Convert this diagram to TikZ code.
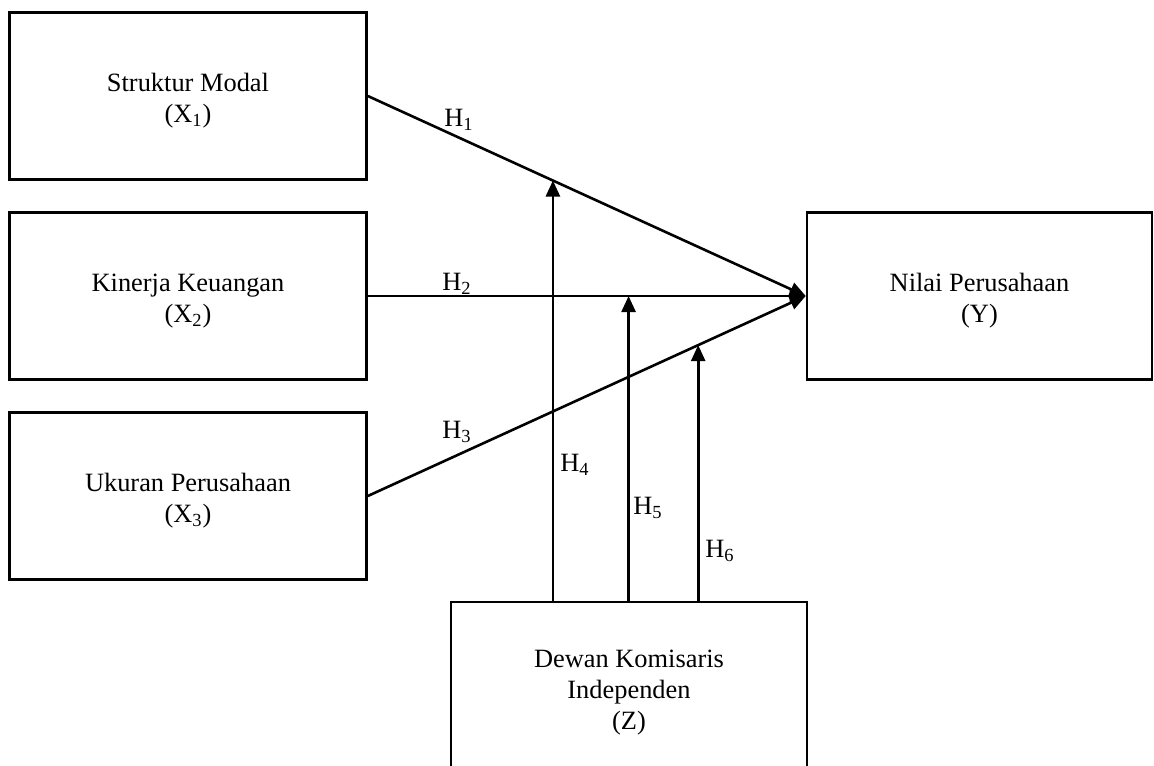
\documentclass[tikz,border=0pt]{standalone}
\usepackage{fontspec}
\setmainfont{Liberation Serif}
\usetikzlibrary{arrows.meta,calc}
\begin{document}
\begin{tikzpicture}[x=0.5pt,y=-0.5pt,
  box/.style={draw, line width=1.3pt, inner sep=0pt},
  boxtext/.style={align=center, inner sep=0pt, yshift=-2.5pt, font=\fontsize{13.2}{15.6}\selectfont},
  leftbox/.style={box, minimum width=178.5pt, minimum height=83.5pt},
  arr/.style={line width=1.3pt, -{Triangle[length=8pt,width=7pt]}},
  lab/.style={font=\fontsize{13.2}{16}\selectfont, inner sep=0pt}]
\useasboundingbox (0,0) rectangle (1154,765);
\node[leftbox, label={[boxtext]center:{Struktur Modal\\(X\textsubscript{1})}}] (x1) at (188,96) {};
\node[leftbox, label={[boxtext]center:{Kinerja Keuangan\\(X\textsubscript{2})}}] (x2) at (188,296) {};
\node[leftbox, label={[boxtext]center:{Ukuran Perusahaan\\(X\textsubscript{3})}}] (x3) at (188,496) {};
\node[box, minimum width=172.5pt, minimum height=83.5pt, label={[boxtext]center:{Nilai Perusahaan\\(Y)}}] (y) at (979.5,296) {};
\node[box, minimum width=178pt, minimum height=86.5pt, label={[boxtext, yshift=0.5pt]center:{Dewan Komisaris\\Independen\\(Z)}}] (z) at (629,688.5) {};
\draw[arr] (x1.east) -- (y.west);
\draw[arr] (x2.east) -- (y.west);
\draw[arr] (x3.east) -- (y.west);
\coordinate (p1) at ($(x1.east)!0.4227!(y.west)$);
\coordinate (p2) at ($(x2.east)!0.5955!(y.west)$);
\coordinate (p3) at ($(x3.east)!0.7545!(y.west)$);
\draw[arr] (z.north -| p1) -- (p1);
\draw[arr] (z.north -| p2) -- (p2);
\draw[arr] (z.north -| p3) -- (p3);
\node[lab] (h1) at (459,120) {H\textsubscript{1}};
\node[lab] (h2) at (457,284) {H\textsubscript{2}};
\node[lab] (h3) at (457,432) {H\textsubscript{3}};
\node[lab] (h4) at (575,465) {H\textsubscript{4}};
\node[lab] (h5) at (648,508) {H\textsubscript{5}};
\node[lab] (h6) at (720,551) {H\textsubscript{6}};
\end{tikzpicture}
\end{document}
